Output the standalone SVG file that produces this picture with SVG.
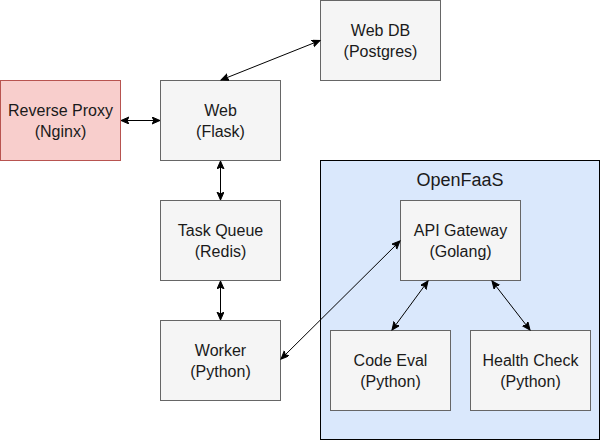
<svg xmlns="http://www.w3.org/2000/svg" width="601" height="441" viewBox="0 0 601 441">
<defs>
<marker id="arr" markerUnits="userSpaceOnUse" markerWidth="10" markerHeight="10" refX="8" refY="3.5" orient="auto-start-reverse">
<path d="M0,0 L8,3.5 L0,7 L2,3.5 z" fill="#000" stroke="#000" stroke-width="1"/>
</marker>
<style>
.n{fill:#f5f5f5;stroke:#666666;stroke-width:1}
.t{font-family:"Liberation Sans",Arial,Helvetica,sans-serif;font-size:16px;fill:#1a1a1a;text-anchor:middle}
.c{fill:none;stroke:#000;stroke-width:1;marker-start:url(#arr);marker-end:url(#arr)}
</style>
</defs>
<rect width="601" height="441" fill="#fff"/>
<g id="openfaas">
<rect x="320.5" y="160.5" width="279" height="279" fill="#dae8fc" stroke="#000" stroke-width="1"/>
<text class="t" x="460" y="186" style="font-size:18px">OpenFaaS</text>
</g>
<g id="proxy">
<rect x="0.5" y="80.5" width="120" height="80" fill="#f8cecc" stroke="#b85450"/>
<text class="t" x="60.5" y="116">Reverse Proxy</text>
<text class="t" x="60.5" y="137">(Nginx)</text>
</g>
<g id="web">
<rect class="n" x="160.5" y="80.5" width="120" height="80"/>
<text class="t" x="220.5" y="116">Web</text>
<text class="t" x="220.5" y="137">(Flask)</text>
</g>
<g id="webdb">
<rect class="n" x="320.5" y="0.5" width="120" height="80"/>
<text class="t" x="380.5" y="36">Web DB</text>
<text class="t" x="380.5" y="57">(Postgres)</text>
</g>
<g id="taskqueue">
<rect class="n" x="160.5" y="200.5" width="120" height="80"/>
<text class="t" x="220.5" y="236">Task Queue</text>
<text class="t" x="220.5" y="257">(Redis)</text>
</g>
<g id="worker">
<rect class="n" x="160.5" y="320.5" width="120" height="80"/>
<text class="t" x="220.5" y="356">Worker</text>
<text class="t" x="220.5" y="377">(Python)</text>
</g>
<g id="gateway">
<rect class="n" x="400.5" y="200.5" width="120" height="80"/>
<text class="t" x="460.5" y="236">API Gateway</text>
<text class="t" x="460.5" y="257">(Golang)</text>
</g>
<g id="codeeval">
<rect class="n" x="330.5" y="330.5" width="120" height="80"/>
<text class="t" x="390.5" y="366">Code Eval</text>
<text class="t" x="390.5" y="387">(Python)</text>
</g>
<g id="healthcheck">
<rect class="n" x="470.5" y="330.5" width="120" height="80"/>
<text class="t" x="530.5" y="366">Health Check</text>
<text class="t" x="530.5" y="387">(Python)</text>
</g>
<g id="connectors">
<line class="c" x1="121" y1="120.5" x2="160" y2="120.5"/>
<line class="c" x1="221" y1="80" x2="320" y2="40.5"/>
<line class="c" x1="220.5" y1="161" x2="220.5" y2="200"/>
<line class="c" x1="220.5" y1="281" x2="220.5" y2="320"/>
<line class="c" x1="281" y1="359" x2="400" y2="241"/>
<line class="c" x1="392" y1="330" x2="428" y2="281"/>
<line class="c" x1="530" y1="330" x2="492" y2="281"/>
</g>
</svg>
